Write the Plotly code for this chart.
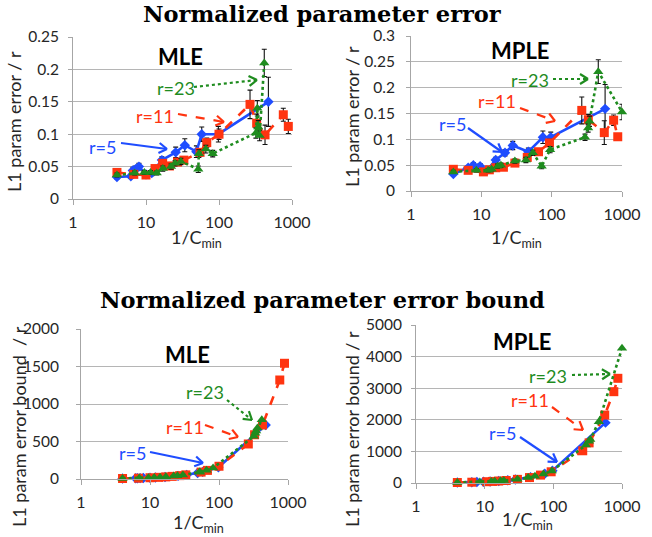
import plotly.graph_objects as go

W, H = 652, 537

# ---------------- data ----------------
# MLE (panels 1 and 3)
mle5_x = [4, 6.2, 6.6, 7.2, 8, 10, 12, 16.5, 25.5, 34, 49, 58, 98, 475]
mle5_err = [0.034, 0.035, 0.044, 0.046, 0.05, 0.038, 0.04, 0.06, 0.072, 0.083, 0.073, 0.1, 0.1, 0.15]
mle5_errbar = [0.003, 0.003, 0.005, 0.005, 0.005, 0.004, 0.004, 0.005, 0.008, 0.01, 0.009, 0.011, 0.012, 0.038]
mle5_bound = [6, 10, 11, 12, 13, 16, 20, 27, 42, 55, 80, 95, 156, 720]

mle11_x = [4, 6.8, 10, 13.3, 16.9, 21, 27, 33, 55, 68, 100, 266, 328, 427, 760, 890]
mle11_err = [0.041, 0.038, 0.037, 0.047, 0.055, 0.051, 0.057, 0.06, 0.072, 0.087, 0.1, 0.146, 0.117, 0.099, 0.13, 0.112]
mle11_errbar = [0.003, 0.003, 0.003, 0.004, 0.004, 0.004, 0.005, 0.005, 0.006, 0.007, 0.008, 0.022, 0.014, 0.015, 0.01, 0.011]
mle11_bound = [7, 11, 17, 22, 28, 35, 45, 55, 92, 115, 170, 467, 590, 720, 1320, 1543]

mle23_x = [4, 7, 9.5, 11.5, 14, 17, 22, 25, 30, 52, 53, 66, 82, 320, 335, 345, 360, 417]
mle23_err = [0.037, 0.04, 0.041, 0.041, 0.04, 0.047, 0.05, 0.055, 0.058, 0.046, 0.07, 0.077, 0.07, 0.102, 0.14, 0.111, 0.098, 0.21]
mle23_errbar = [0.003, 0.003, 0.003, 0.003, 0.003, 0.004, 0.004, 0.004, 0.005, 0.005, 0.006, 0.006, 0.005, 0.008, 0.012, 0.01, 0.008, 0.021]
mle23_bound = [7, 12, 17, 20, 25, 30, 39, 44, 53, 92, 94, 117, 146, 570, 610, 640, 680, 790]

# MPLE (panels 2 and 4)
mple5_x = [4, 6.5, 7.7, 9.6, 12, 16, 21.7, 28, 46.6, 75, 97, 575]
mple5_err = [0.033, 0.045, 0.05, 0.048, 0.04, 0.06, 0.074, 0.088, 0.076, 0.104, 0.104, 0.159]
mple5_errbar = [0.003, 0.004, 0.005, 0.005, 0.004, 0.005, 0.006, 0.008, 0.007, 0.012, 0.01, 0.047]
mple5_bound = [15, 25, 30, 38, 47, 63, 85, 110, 185, 295, 390, 1910]

mple11_x = [4, 6.5, 10.7, 13, 16, 20.6, 30, 45, 65, 93, 268, 332, 560, 760, 870]
mple11_err = [0.042, 0.04, 0.037, 0.041, 0.045, 0.046, 0.054, 0.065, 0.076, 0.093, 0.156, 0.138, 0.113, 0.137, 0.105]
mple11_errbar = [0.003, 0.003, 0.003, 0.003, 0.004, 0.004, 0.004, 0.005, 0.006, 0.007, 0.026, 0.01, 0.023, 0.01, 0.005]
mple11_bound = [15, 25, 41, 50, 62, 79, 115, 172, 250, 355, 1020, 1270, 2150, 2890, 3313]

mple23_x = [4, 8.5, 12.5, 14, 17, 19, 30, 43, 54, 72, 95, 298, 330, 345, 460, 1000]
mple23_err = [0.037, 0.04, 0.04, 0.042, 0.048, 0.05, 0.058, 0.06, 0.074, 0.048, 0.08, 0.104, 0.122, 0.135, 0.231, 0.153]
mple23_errbar = [0.003, 0.003, 0.003, 0.003, 0.004, 0.004, 0.004, 0.005, 0.005, 0.005, 0.006, 0.006, 0.008, 0.01, 0.023, 0.015]
mple23_bound = [16, 34, 50, 56, 68, 76, 120, 172, 216, 288, 380, 1200, 1320, 1380, 1940, 4263]

x_ticks = [1, 10, 100, 1000]
x_ticktext = ["1", "10", "100", "1000"]
err_mle_ticks = [0, 0.05, 0.1, 0.15, 0.2, 0.25]
err_mple_ticks = [0, 0.05, 0.1, 0.15, 0.2, 0.25, 0.3]
bound_mle_ticks = [0, 500, 1000, 1500, 2000]
bound_mple_ticks = [0, 1000, 2000, 3000, 4000, 5000]

BLUE = "#1f4dff"
RED = "#ff3410"
GREEN = "#1f8c1f"
FONT = "Lato"
TXT = "#262626"
GRID = "#b5b5b5"

fig = go.Figure()


def series(ax, x, y, color, dash, symbol, size, name, errbar=None):
    kw = {}
    if errbar is not None:
        kw["error_y"] = dict(type="data", array=errbar, visible=True,
                             color="#111111", thickness=1.1, width=2.5)
    fig.add_trace(go.Scatter(
        x=x, y=y, mode="lines+markers", name=name,
        xaxis="x" + ax, yaxis="y" + ax,
        line=dict(color=color, width=2.6, dash=dash),
        marker=dict(symbol=symbol, size=size, color=color),
        cliponaxis=False, showlegend=False, **kw))


for ax, d in [("", dict(x5=mle5_x, y5=mle5_err, e5=mle5_errbar,
                         x11=mle11_x, y11=mle11_err, e11=mle11_errbar,
                         x23=mle23_x, y23=mle23_err, e23=mle23_errbar)),
              ("2", dict(x5=mple5_x, y5=mple5_err, e5=mple5_errbar,
                         x11=mple11_x, y11=mple11_err, e11=mple11_errbar,
                         x23=mple23_x, y23=mple23_err, e23=mple23_errbar)),
              ("3", dict(x5=mle5_x, y5=mle5_bound, e5=None,
                         x11=mle11_x, y11=mle11_bound, e11=None,
                         x23=mle23_x, y23=mle23_bound, e23=None)),
              ("4", dict(x5=mple5_x, y5=mple5_bound, e5=None,
                         x11=mple11_x, y11=mple11_bound, e11=None,
                         x23=mple23_x, y23=mple23_bound, e23=None))]:
    series(ax, d["x5"], d["y5"], BLUE, "solid", "diamond", 8, "r=5", d["e5"])
    series(ax, d["x11"], d["y11"], RED, "dash", "square", 9, "r=11", d["e11"])
    series(ax, d["x23"], d["y23"], GREEN, "dot", "triangle-up", 9, "r=23", d["e23"])


def px(x):
    return x / W


def py(y):
    return 1 - y / H


# panel geometry in window pixels: (x_left, x_right, y_bottom, y_top)
panels = {
    "": (73, 292, 199, 37),
    "2": (411, 622, 191, 36),
    "3": (81, 288, 479, 329),
    "4": (416, 622, 483, 325),
}
yinfo = {
    "": (err_mle_ticks, [0, 0.25], ["0", "0.05", "0.1", "0.15", "0.2", "0.25"], 6),
    "2": (err_mple_ticks, [0, 0.3], ["0", "0.05", "0.1", "0.15", "0.2", "0.25", "0.3"], 8),
    "3": (bound_mle_ticks, [0, 2000], [str(v) for v in bound_mle_ticks], 14),
    "4": (bound_mple_ticks, [0, 5000], [str(v) for v in bound_mple_ticks], 6),
}

layout = dict(width=W, height=H, autosize=False,
              margin=dict(l=0, r=0, t=0, b=0, pad=0, autoexpand=False),
              paper_bgcolor="white", plot_bgcolor="white",
              font=dict(family=FONT, color=TXT, size=16))

for ax, (xl, xr, yb, yt) in panels.items():
    tv, rng, tt, stand = yinfo[ax]
    layout["xaxis" + ax] = dict(
        type="log", range=[0, 3], domain=[px(xl), px(xr)],
        anchor="y" + ax, tickvals=x_ticks, ticktext=x_ticktext,
        showgrid=False, zeroline=False, showline=True, linecolor="#a6a6a6",
        linewidth=1, ticks="outside", ticklen=5, tickcolor="#a6a6a6",
        tickfont=dict(size=16, family=FONT, color=TXT), ticklabelstandoff=4,
        automargin=False)
    layout["yaxis" + ax] = dict(
        range=rng, domain=[py(yb), py(yt)], anchor="x" + ax,
        tickvals=tv, ticktext=tt, showgrid=True, gridcolor=GRID, gridwidth=1,
        zeroline=False, showline=True, linecolor="#a6a6a6", linewidth=1,
        ticks="outside", ticklen=4, tickcolor="#a6a6a6",
        tickfont=dict(size=15.5, family=FONT, color=TXT), ticklabelstandoff=stand,
        automargin=False)

annotations = []
shapes = []


def label(text, x, y, size, color, family=FONT, angle=0):
    annotations.append(dict(text=text, x=px(x), y=py(y), xref="paper", yref="paper",
                            showarrow=False, xanchor="center", yanchor="middle",
                            textangle=angle,
                            font=dict(family=family, size=size, color=color)))


# main titles
label("<b>Normalized parameter error</b>", 322, 14, 22.5, "black", "DejaVu Serif")
label("<b>Normalized parameter error bound</b>", 322, 300, 22.5, "black", "DejaVu Serif")

# panel labels
for text, xc, yc in [("MLE", 180, 56), ("MPLE", 520, 51), ("MLE", 187, 354), ("MPLE", 522, 341)]:
    label("<b>" + text + "</b>", xc, yc, 22, "black")

# y-axis titles
for text, xc, yc in [("L1 param error / r", 14, 122), ("L1 param error / r", 352, 117),
                     ("L1 param error bound  / r", 19, 427), ("L1 param error bound / r", 352, 429)]:
    label(text, xc, yc, 18, TXT, angle=-90)

# x-axis titles
for xc, yc in [(197, 238), (516, 238), (198, 523), (527, 520)]:
    label("1/C<sub>min</sub>", xc, yc, 18, TXT)

# labelled arrows: (text, color, dash, text_x, text_y, tail_x, tail_y, head_x, head_y)
arrows = [
    ("r=5", BLUE, "solid", 102, 147, 121, 143, 167, 149),
    ("r=11", RED, "dash", 155, 116, 178, 114, 224, 122),
    ("r=23", GREEN, "dot", 176, 88, 194, 87, 257, 80),
    ("r=5", BLUE, "solid", 452, 124, 468, 128, 502, 152),
    ("r=11", RED, "dash", 497, 101, 520, 108, 555, 121),
    ("r=23", GREEN, "dot", 530, 80, 553, 79, 588, 79),
    ("r=5", BLUE, "solid", 132, 453, 150, 452, 203, 463),
    ("r=11", RED, "dash", 185, 427, 205, 425, 238, 437),
    ("r=23", GREEN, "dot", 205, 392, 227, 400, 252, 420),
    ("r=5", BLUE, "solid", 502, 433, 520, 437, 557, 462),
    ("r=11", RED, "dash", 530, 400, 552, 407, 583, 430),
    ("r=23", GREEN, "dot", 548, 376, 572, 375, 610, 374),
]
for text, col, dash, tx, ty, x0, y0, x1, y1 in arrows:
    label(text, tx, ty, 18, col)
    shapes.append(dict(type="line", xref="paper", yref="paper",
                       x0=px(x0), y0=py(y0), x1=px(x1), y1=py(y1),
                       line=dict(color=col, width=2.2, dash=dash)))
    dx, dy = x1 - x0, y1 - y0
    n = (dx * dx + dy * dy) ** 0.5
    ux, uy = dx / n, dy / n
    L, Wd = 8, 5
    for s in (1, -1):
        wx = x1 - L * ux + s * Wd * (-uy)
        wy = y1 - L * uy + s * Wd * ux
        shapes.append(dict(type="line", xref="paper", yref="paper",
                           x0=px(wx), y0=py(wy), x1=px(x1), y1=py(y1),
                           line=dict(color=col, width=2.2)))

layout["annotations"] = annotations
layout["shapes"] = shapes
fig.update_layout(**layout)
fig.write_html("out.html", config={"displayModeBar": False},
               post_script="document.body.style.margin='0px';"
                           "document.body.style.overflow='hidden';")
